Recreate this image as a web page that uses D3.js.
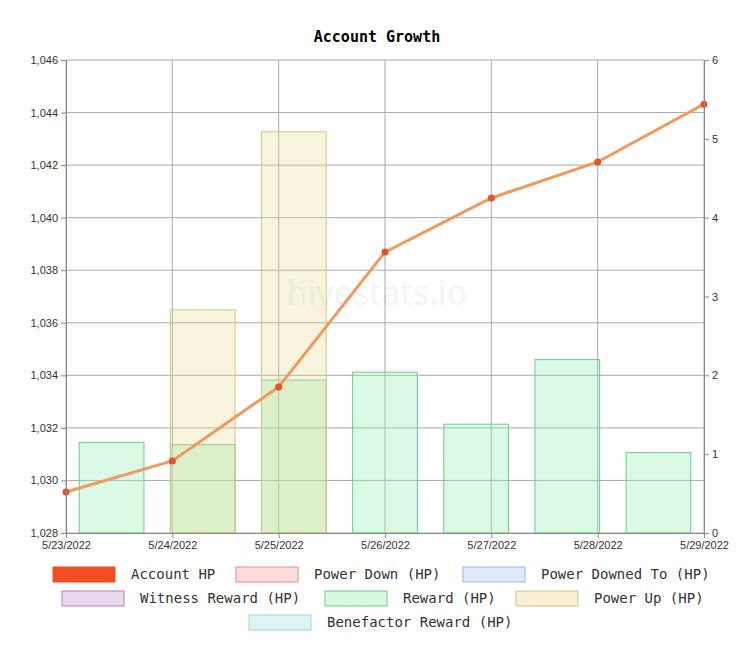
<!DOCTYPE html><html><head><meta charset="utf-8">
<script src="https://cdn.jsdelivr.net/npm/d3@7"></script>
<style>body{margin:0;background:#fff}text{font-family:"DejaVu Sans Mono",monospace}</style></head><body>
<svg id="c" width="753" height="655"></svg>
<script>
const dates=["5/23/2022","5/24/2022","5/25/2022","5/26/2022","5/27/2022","5/28/2022","5/29/2022"];
const accountHP=[1029.56,1030.74,1033.56,1038.69,1040.75,1042.12,1044.32];
const reward=[1.15,1.12,1.94,2.04,1.38,2.2,1.02];
const powerUp=[0,2.83,5.09,0,0,0,0];
const leftTicks=[1028,1030,1032,1034,1036,1038,1040,1042,1044,1046];
const rightTicks=[0,1,2,3,4,5,6];
const svg=d3.select("#c");
const L=66,R=704,T=60,B=533;
const xp=d3.scalePoint().domain(dates).range([L,R]);
const xb=d3.scaleBand().domain(dates).range([L,R]).paddingInner(0.29).paddingOuter(0.145);
const yl=d3.scaleLinear().domain([1028,1046]).range([B,T]);
const yr=d3.scaleLinear().domain([0,6]).range([B,T]);
svg.append("text").attr("x",377).attr("y",42).attr("text-anchor","middle").attr("font-weight","bold").attr("font-size",15).text("Account Growth");
const g=svg.append("g");
g.append("g").selectAll("line").data(leftTicks).join("line").attr("x1",L).attr("x2",R).attr("y1",d=>yl(d)).attr("y2",d=>yl(d)).attr("stroke","#aaa");
g.append("g").selectAll("line").data(dates).join("line").attr("x1",d=>xp(d)).attr("x2",d=>xp(d)).attr("y1",T).attr("y2",B).attr("stroke","#aaa");
g.append("text").attr("x",377).attr("y",305).attr("text-anchor","middle").attr("font-size",34).attr("fill","#000").attr("opacity",0.04).style("font-family","Noto Sans, sans-serif").text("hivestats.io");
g.selectAll(".rw").data(dates).join("rect").attr("x",d=>xb(d)).attr("width",xb.bandwidth()).attr("y",(d,i)=>yr(reward[i])).attr("height",(d,i)=>B-yr(reward[i])).attr("fill","rgba(140,240,175,0.32)").attr("stroke","#70c890");
g.selectAll(".pu").data(dates).join("rect").attr("x",d=>xb(d)).attr("width",xb.bandwidth()).attr("y",(d,i)=>yr(powerUp[i])).attr("height",(d,i)=>B-yr(powerUp[i])).attr("fill","rgba(230,215,140,0.3)").attr("stroke",(d,i)=>powerUp[i]?"#d4c480":"none");
const ax=svg.append("g").attr("transform",`translate(0,${B})`).call(d3.axisBottom(xp).tickSize(5));
const al=svg.append("g").attr("transform",`translate(${L},0)`).call(d3.axisLeft(yl).tickValues(leftTicks).tickFormat(d3.format(",")).tickSize(5));
const ar=svg.append("g").attr("transform",`translate(${R},0)`).call(d3.axisRight(yr).tickValues(rightTicks).tickFormat(d3.format("d")).tickSize(5));
[ax,al,ar].forEach(a=>{a.selectAll("text").style("font-family","Liberation Sans, Arial, sans-serif").attr("font-size",11).attr("fill","#333");a.selectAll("path,line").attr("stroke","#888")});
g.append("path").datum(accountHP).attr("d",d3.line().x((d,i)=>xp(dates[i])).y(d=>yl(d))).attr("fill","none").attr("stroke","#ef9a5f").attr("stroke-width",3);
g.selectAll("circle").data(accountHP).join("circle").attr("cx",(d,i)=>xp(dates[i])).attr("cy",d=>yl(d)).attr("r",3.5).attr("fill","#e8502a");
const leg=[["Account HP",53,574,"#f04e22","#f04e22"],["Power Down (HP)",236,574,"#fdd","#e88"],["Power Downed To (HP)",463,574,"#dde8fb","#9ab8e8"],
["Witness Reward (HP)",62,598,"#ead8ee","#b080c0"],["Reward (HP)",325,598,"#d7f8e2","#70c890"],["Power Up (HP)",516,598,"#f7f0d5","#d4c480"],["Benefactor Reward (HP)",249,622,"#def6f3","#9cdcd4"]];
leg.forEach(([t,x,y,f,s])=>{svg.append("rect").attr("x",x).attr("y",y-7).attr("width",62).attr("height",15).attr("fill",f).attr("stroke",s);
svg.append("text").attr("x",x+78).attr("y",y+5).attr("font-size",14).attr("fill","#333").text(t);});
</script></body></html>
